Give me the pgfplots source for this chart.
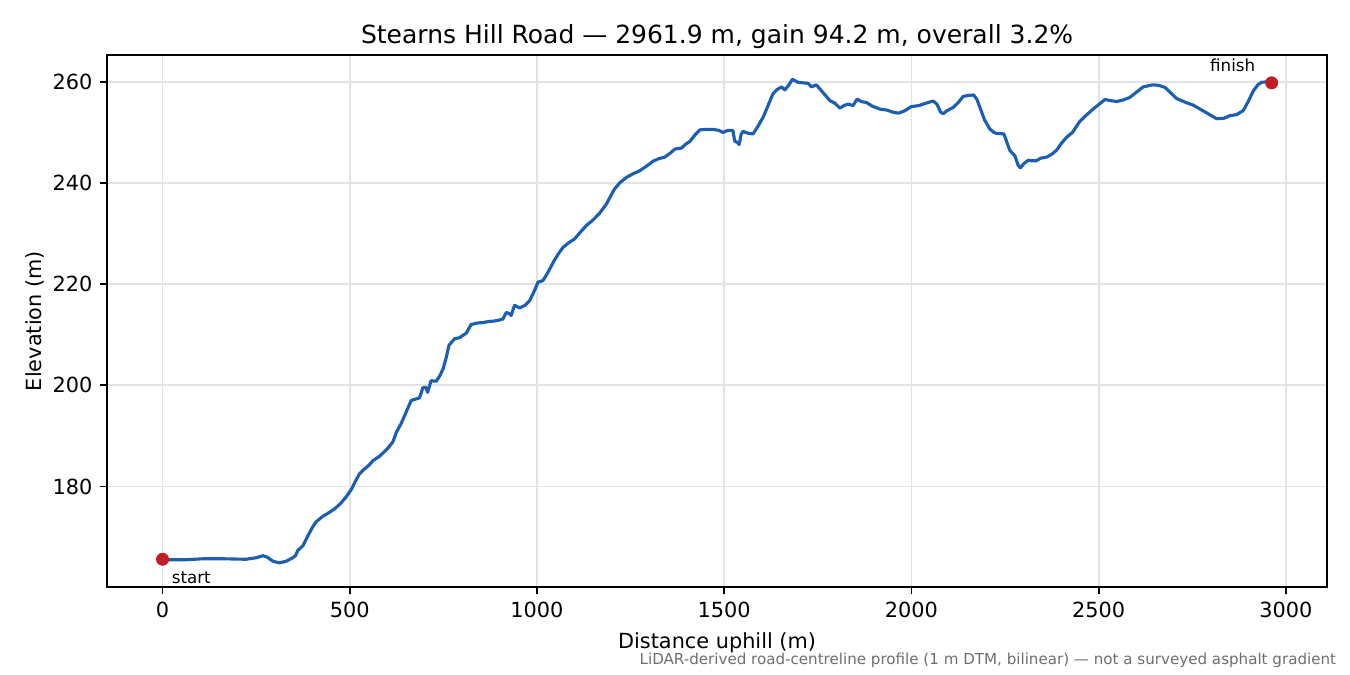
\documentclass[border=0pt]{standalone}
\usepackage{fontspec}
\setmainfont{DejaVu Sans}
\usepackage{pgfplots}
\pgfplotsset{compat=1.18}

\definecolor{profileblue}{RGB}{27,94,178}
\definecolor{endred}{RGB}{193,28,40}
\definecolor{notegray}{RGB}{110,110,110}

\begin{document}
\begin{tikzpicture}
\begin{axis}[
    at={(0,0)}, anchor=south west,
    scale only axis,
    width=585.6pt, height=255.4pt,
    xmin=-148.1, xmax=3110,
    ymin=160.1, ymax=265.3,
    xtick={0,500,1000,1500,2000,2500,3000},
    ytick={180,200,220,240,260},
    /pgf/number format/assume math mode=true,
    /pgf/number format/set thousands separator={},
    tick label style={font=\fontsize{10}{12}\selectfont},
    tick align=outside,
    major tick length=3.5pt,
    every tick/.style={black, line width=0.8pt},
    xtick pos=bottom, ytick pos=left,
    axis line style={line width=0.8pt},
    grid=major,
    major grid style={gray!22, line width=0.8pt},
    clip=false,
]
\addplot[profileblue, line width=1.5pt, line join=round] coordinates {
(0,165.6) (20,165.5) (60,165.5) (110,165.7) (160,165.7) (223,165.6)
(250,165.9) (268,166.3) (280,166.0) (295,165.2) (312,164.9) (330,165.2)
(348,165.9) (355,166.3) (361,167.3) (375,168.3) (390,170.5) (401,172.0)
(410,173.0) (420,173.6) (428,174.1) (440,174.6) (460,175.6) (475,176.6)
(490,177.9) (505,179.5) (515,181.0) (526,182.5) (540,183.5) (550,184.1)
(562,185.1) (580,186.0) (600,187.4) (615,188.8) (625,190.8) (637,192.4)
(650,194.6) (664,197.0) (686,197.5) (690,198.3) (695,199.5) (703,199.6)
(708,198.6) (717,200.9) (731,200.8) (740,201.8) (749,203.2) (757,205.3)
(765,207.9) (780,209.2) (793,209.4) (811,210.3) (824,212.0) (840,212.3)
(856,212.4) (870,212.6) (885,212.7) (900,212.9) (909,213.1) (918,214.4)
(925,214.2) (931,213.8) (940,215.8) (954,215.3) (968,215.8) (980,216.7)
(989,218.0) (1003,220.4) (1016,220.7) (1029,222.3) (1047,224.8) (1060,226.3)
(1070,227.3) (1085,228.2) (1100,228.9) (1115,230.2) (1132,231.6) (1150,232.7)
(1167,234.0) (1185,235.8) (1207,238.8) (1222,240.1) (1239,241.1) (1256,241.8)
(1274,242.4) (1292,243.3) (1310,244.3) (1325,244.8) (1341,245.1) (1356,245.9)
(1368,246.7) (1386,246.9) (1396,247.6) (1408,248.2) (1422,249.5) (1435,250.5)
(1450,250.6) (1470,250.6) (1485,250.4) (1497,250.0) (1510,250.4) (1523,250.4)
(1528,248.3) (1535,248.0) (1540,247.6) (1545,249.6) (1550,250.2) (1565,249.8)
(1577,249.7) (1590,251.2) (1604,253.0) (1617,255.3) (1630,257.6) (1640,258.4)
(1653,259.0) (1662,258.4) (1672,259.3) (1682,260.5) (1697,259.9) (1710,259.8)
(1724,259.7) (1733,259.0) (1746,259.4) (1760,258.2) (1782,256.3) (1795,255.8)
(1809,254.8) (1820,255.3) (1831,255.6) (1844,255.3) (1855,256.6) (1866,256.1)
(1880,255.9) (1895,255.2) (1916,254.6) (1935,254.4) (1950,254.0) (1965,253.8)
(1980,254.2) (2000,255.1) (2020,255.3) (2040,255.8) (2058,256.2) (2068,255.6)
(2078,254.0) (2085,253.7) (2095,254.3) (2111,254.9) (2125,255.9) (2138,257.1)
(2152,257.3) (2166,257.4) (2175,256.5) (2183,254.9) (2195,252.5) (2209,250.7)
(2220,250.0) (2227,249.8) (2247,249.7) (2255,248.0) (2263,246.4) (2276,245.4)
(2285,243.5) (2291,243.0) (2300,243.8) (2312,244.5) (2320,244.4) (2334,244.4)
(2345,244.9) (2361,245.1) (2375,245.7) (2388,246.5) (2400,247.8) (2414,249.0)
(2430,250.0) (2450,252.2) (2467,253.4) (2485,254.6) (2500,255.5) (2517,256.5)
(2530,256.3) (2548,256.1) (2565,256.4) (2583,256.9) (2600,257.9) (2619,259.0)
(2645,259.4) (2660,259.3) (2677,258.9) (2690,258.0) (2708,256.7) (2730,256.0)
(2752,255.4) (2785,254.0) (2815,252.7) (2835,252.8) (2850,253.3) (2868,253.5)
(2886,254.3) (2900,256.2) (2913,258.2) (2925,259.4) (2935,259.9) (2950,260.0)
(2961.9,259.8)
};
\addplot[only marks, mark=*, mark size=2.9pt, color=endred] coordinates {
(0,165.6) (2961.9,259.8)
};
\node[anchor=west, inner sep=0pt, font=\fontsize{8}{10}\selectfont, xshift=4.3pt, yshift=-9.1pt]
    at (axis cs:0,165.6) {start};
\node[anchor=center, inner sep=0pt, font=\fontsize{8}{10}\selectfont, xshift=-18.7pt, yshift=8.6pt]
    at (axis cs:2961.9,259.8) {finish};
\node[anchor=south, inner sep=0pt, yshift=2.8pt, font=\fontsize{12}{14}\selectfont]
    at (rel axis cs:0.5,1) {Stearns Hill Road — 2961.9 m, gain 94.2 m, overall 3.2\%};
\node[anchor=north, inner sep=0pt, yshift=-21.5pt, font=\fontsize{10}{12}\selectfont]
    at (rel axis cs:0.5,0) {Distance uphill (m)};
\node[anchor=center, rotate=90, inner sep=0pt, font=\fontsize{10}{12}\selectfont]
    at ([xshift=-34.6pt]rel axis cs:0,0.5) {Elevation (m)};
\end{axis}
\node[anchor=south east, inner sep=0pt, text=notegray, font=\fontsize{7.25}{8.5}\selectfont]
    at (590.1pt,-38.96pt) {LiDAR-derived road-centreline profile (1 m DTM, bilinear) — not a surveyed asphalt gradient};
\pgfresetboundingbox
\path[use as bounding box] (-51.4pt,-42.2pt) rectangle (596.6pt,281.8pt);
\end{tikzpicture}
\end{document}
